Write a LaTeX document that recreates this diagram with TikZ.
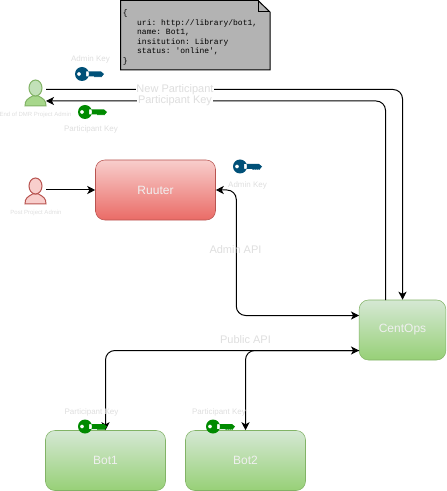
\documentclass[tikz,border=0pt]{standalone}
\usepackage{fontspec}
\setmainfont{Liberation Sans}
\setmonofont{Liberation Mono}
\usetikzlibrary{arrows.meta, positioning, calc}
\definecolor{labelgrey}{RGB}{240, 240, 240}
\definecolor{smallgrey}{RGB}{222, 222, 222}
\definecolor{notegrey}{RGB}{179, 179, 179}
\definecolor{keyblue}{RGB}{0, 80, 120}
\definecolor{keygreen}{RGB}{0, 138, 0}
\definecolor{greentop}{RGB}{213, 232, 212}
\definecolor{greenbot}{RGB}{151, 208, 119}
\definecolor{greenline}{RGB}{130, 179, 102}
\definecolor{redtop}{RGB}{248, 206, 204}
\definecolor{redbot}{RGB}{234, 107, 102}
\definecolor{redline}{RGB}{184, 84, 80}
\tikzset{
  greenbox/.style={draw=greenline, top color=greentop, bottom color=greenbot, rounded corners=7pt, minimum height=45pt, text=labelgrey, font=\fontsize{9}{11}\selectfont},
  redbox/.style={draw=redline, top color=redtop, bottom color=redbot, rounded corners=7pt, minimum width=90pt, minimum height=45pt, text=labelgrey, font=\fontsize{9}{11}\selectfont},
  flow/.style={line width=0.75pt, rounded corners=7pt},
  apilabel/.style={text=smallgrey, font=\fontsize{8.25}{10}\selectfont, inner sep=0.5pt},
  keylabel/.style={text=smallgrey, font=\fontsize{6}{7}\selectfont, inner sep=0pt},
  rolelabel/.style={text=smallgrey, font=\fontsize{4.5}{5}\selectfont, inner sep=0pt},
  actor/.style={minimum width=15.75pt, minimum height=19.5pt, inner sep=0pt},
  >={Stealth[length=6pt, width=6pt, inset=1.6pt]},
  pics/person/.style n args={3}{code={
    \draw[#1, fill=#3, line width=0.75pt] (-10.5,13) .. controls (-10.5,7) and (-8,6) .. (-3,3) -- (3,3) .. controls (8,6) and (10.5,7) .. (10.5,13) -- cycle;
    \draw[#1, fill=#2, line width=0.75pt] (0,-5) ellipse [x radius=6.5, y radius=8];
  }},
  pics/keyicon/.style={code={
    \fill[#1, even odd rule] (7,0) circle [radius=7] (4,0) circle [radius=2]
      (11,-2.5) -- (26,-2.5) -- (29,0) -- (27,2.5) -- (26,3.5) -- (25,2.5) -- (24,3.5) -- (23,2.5) -- (22,3.5) -- (21,2.5) -- (20,3.5) -- (19,2.5) -- (11,2.5) -- cycle;
  }},
}

\begin{document}
\begin{tikzpicture}[x=0.75pt, y=-0.75pt]
  \useasboundingbox (0,0) rectangle (446,491);

  % json note
  \draw[fill=notegrey, line width=0.75pt] (120.5,0.5) -- (258,0.5) -- (270,12) -- (270,70) -- (120.5,70) -- cycle;
  \draw[line width=0.75pt] (258,0.5) -- (258,12) -- (270,12);
  \node[anchor=north west, inner sep=0pt, align=left, font=\ttfamily\fontsize{6}{7.2}\selectfont] (noteText) at (122.5,8.5) {\strut\{\\
    \hspace*{10.8pt}uri: http://library/bot1,\\
    \hspace*{10.8pt}name: Bot1,\\
    \hspace*{10.8pt}insitution: Library\\
    \hspace*{10.8pt}status: 'online',\\
    \}};

  % boxes
  \node[redbox] (ruuter) at (155.5,190) {Ruuter};
  \node[greenbox, minimum width=65pt] (centops) at (402.5,330) {CentOps};
  \node[greenbox, minimum width=90pt] (bot1) at (105.5,460.5) {Bot1};
  \node[greenbox, minimum width=90pt] (bot2) at (245.5,460.5) {Bot2};

  % people
  \node[actor] (endAdmin) at (35.5,93) {};
  \pic at (35.5,93) {person={greenline}{greentop!70!greenbot}{greenbot!85!white}};
  \node[actor] (postAdmin) at (35.5,191) {};
  \pic at (35.5,191) {person={redline}{redtop}{redtop}};

  % free ends of the connectors
  \coordinate (endOut) at (46,89.5);
  \coordinate (endIn) at (46,101);
  \coordinate (centopsOut) at (385.5,300);
  \coordinate (centopsAdmin) at (359,315.5);
  \coordinate (centopsPublic) at (359,350.5);

  % connectors
  \draw[flow, ->] (endOut) -| (centops.north);
  \draw[flow, ->] (centopsOut) |- (endIn);
  \draw[flow, ->] (postAdmin.east |- ruuter.east) -- (ruuter.west);
  \draw[flow, <->] (ruuter.east) -- ++(20.5,0) |- (centopsAdmin);
  \draw[flow, <->] (bot1.north) |- (centopsPublic);
  \draw[flow, ->] (centopsPublic) -| (bot2.north);

  % keys
  \pic at (75,74) {keyicon=keyblue};
  \pic at (78,112) {keyicon=keygreen};
  \pic at (233,166.5) {keyicon=keyblue};
  \pic at (78,426.5) {keyicon=keygreen};
  \pic at (206,426.5) {keyicon=keygreen};

  % labels
  \node[apilabel, fill=white] (newPart) at (175,89.5) {New Participant};
  \node[apilabel, fill=white] (partKey) at (175,101) {Participant Key};
  \node[apilabel] (adminApi) at (235.5,250) {Admin API};
  \node[apilabel] (publicApi) at (245.5,340) {Public API};
  \node[keylabel] (adminKeyA) at (90.5,59) {Admin Key};
  \node[keylabel] (partKeyA) at (91,129) {Participant Key};
  \node[keylabel] (adminKeyB) at (247.5,185) {Admin Key};
  \node[keylabel] (partKeyB) at (91.5,412) {Participant Key};
  \node[keylabel] (partKeyC) at (219,412) {Participant Key};
  \node[rolelabel] (endLabel) at (35.5,115) {End of DMR Project Admin};
  \node[rolelabel] (postLabel) at (36,213) {Post Project Admin};
\end{tikzpicture}
\end{document}
